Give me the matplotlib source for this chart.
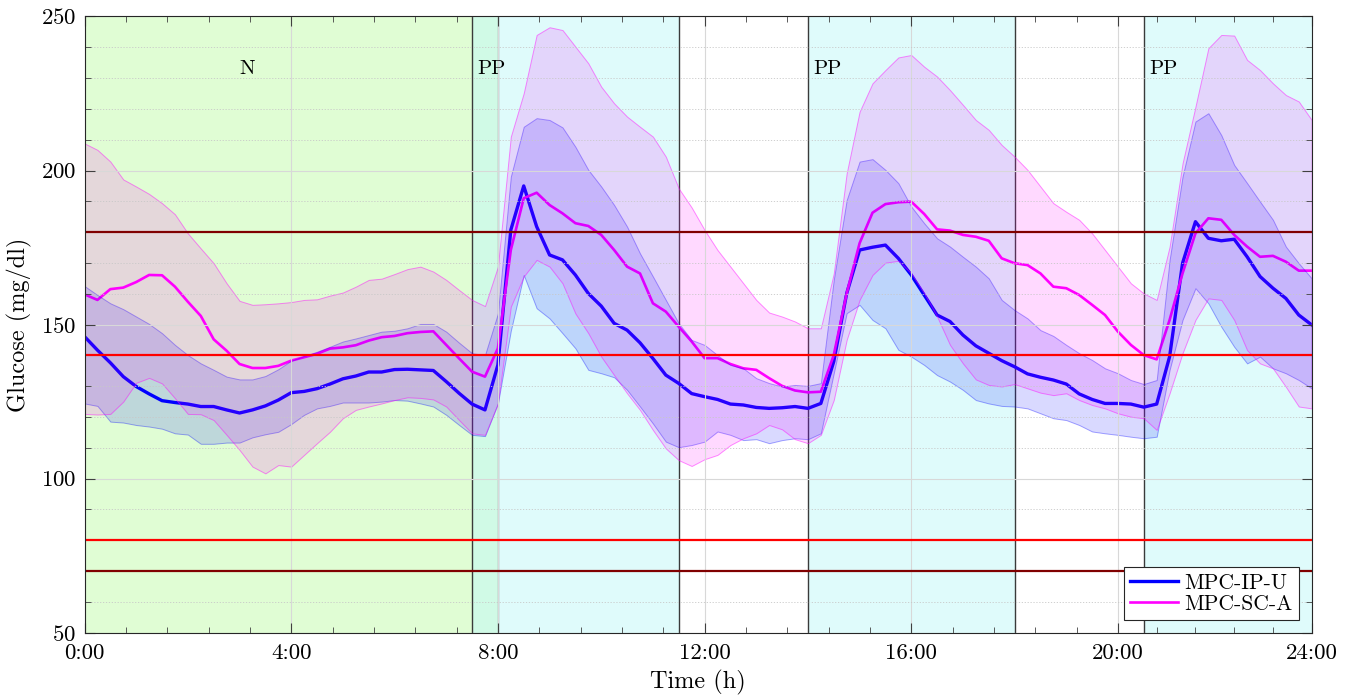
import numpy as np
import matplotlib
matplotlib.use('Agg')
import matplotlib.pyplot as plt
from matplotlib.ticker import FixedLocator, MultipleLocator

plt.rcParams['font.family'] = 'serif'
plt.rcParams['font.serif'] = ['cmr10']
plt.rcParams['mathtext.fontset'] = 'cm'
plt.rcParams['axes.formatter.use_mathtext'] = True

# ── data: 15-min samples, 0:00 .. 23:45 ──────────────────────────────────────
hours = np.arange(96) * 0.25

ip_mean = [146.1, 141.7, 137.6, 133.1, 129.9, 127.5, 125.3, 124.7, 124.2, 123.4,
           123.4, 122.3, 121.3, 122.3, 123.6, 125.5, 127.9, 128.3, 129.2, 130.7,
           132.4, 133.3, 134.6, 134.6, 135.4, 135.5, 135.3, 135.1, 131.5, 127.7,
           124.2, 122.3, 136.9, 180.7, 195.0, 181.8, 172.6, 171.0, 166.1, 160.1,
           156.0, 150.4, 148.2, 144.1, 139.0, 133.6, 130.9, 127.6, 126.6, 125.7,
           124.2, 123.9, 123.1, 122.8, 123.0, 123.4, 122.8, 124.4, 138.0, 160.1,
           174.2, 175.1, 175.8, 171.5, 166.1, 159.6, 153.1, 151.0, 146.6, 143.1,
           140.7, 138.3, 136.3, 134.0, 132.9, 132.0, 130.7, 127.5, 125.7, 124.4,
           124.4, 124.2, 123.2, 124.2, 139.6, 169.9, 183.4, 178.0, 177.2, 177.7,
           172.0, 165.6, 161.8, 158.5, 153.1, 149.9]
ip_lo = [124.4, 123.6, 118.5, 118.2, 117.4, 116.9, 116.2, 114.7, 114.3, 111.3,
         111.3, 111.7, 111.7, 113.4, 114.4, 115.2, 117.7, 120.7, 122.8, 123.6,
         124.7, 124.7, 124.7, 125.0, 125.5, 125.3, 124.4, 123.4, 120.7, 117.4,
         114.2, 113.8, 124.4, 148.0, 166.1, 155.3, 152.0, 147.2, 142.3, 135.3,
         134.2, 132.9, 128.8, 123.4, 117.9, 112.0, 110.2, 110.9, 112.0, 115.3,
         114.2, 112.5, 112.8, 111.5, 112.5, 113.1, 112.8, 114.7, 134.2, 153.7,
         156.4, 151.5, 148.8, 141.8, 139.6, 136.9, 133.6, 131.5, 128.8, 125.5,
         124.4, 123.6, 123.4, 122.8, 121.2, 119.6, 119.0, 117.4, 115.3, 114.7,
         114.2, 113.6, 113.1, 113.6, 135.3, 151.5, 161.8, 156.9, 149.3, 142.8,
         137.4, 139.6, 135.8, 134.2, 132.0, 129.3]
ip_hi = [162.5, 159.6, 156.9, 155.0, 152.6, 150.2, 147.2, 143.4, 140.1, 137.4,
         135.3, 133.1, 132.2, 132.2, 133.3, 135.5, 138.3, 139.8, 141.2, 142.8,
         144.5, 145.5, 146.6, 147.7, 148.0, 148.8, 150.2, 150.2, 147.7, 144.1,
         140.7, 140.1, 153.6, 198.0, 214.2, 217.0, 216.4, 214.0, 207.7, 200.2,
         194.8, 188.8, 181.8, 173.1, 165.6, 158.0, 150.4, 145.0, 143.4, 140.1,
         136.9, 135.8, 132.6, 131.0, 129.9, 130.4, 130.1, 131.0, 164.5, 190.4,
         202.9, 203.7, 200.2, 195.9, 188.3, 182.9, 178.0, 175.3, 172.0, 168.8,
         165.0, 158.0, 154.7, 152.0, 148.2, 146.3, 143.4, 140.7, 138.5, 135.8,
         134.2, 132.0, 130.7, 132.0, 171.0, 198.0, 215.9, 218.6, 211.5, 201.8,
         195.9, 189.9, 184.0, 175.3, 169.9, 165.0]

sc_mean = [159.8, 158.0, 161.5, 162.0, 163.8, 166.1, 166.0, 162.3, 157.4, 152.8,
           145.2, 141.5, 137.2, 135.9, 135.9, 136.6, 138.3, 139.4, 140.5, 142.2,
           142.6, 143.3, 144.8, 145.9, 146.3, 147.2, 147.6, 147.8, 143.4, 139.0,
           134.7, 133.1, 142.3, 174.2, 191.0, 192.8, 188.8, 186.1, 182.9, 182.0,
           179.1, 174.2, 168.8, 166.6, 156.9, 154.2, 149.3, 144.5, 139.1, 139.1,
           137.2, 135.8, 135.3, 132.6, 130.1, 128.6, 128.0, 128.2, 140.1, 160.1,
           176.4, 186.3, 189.1, 189.7, 189.9, 185.9, 180.9, 180.5, 179.1, 178.5,
           177.2, 171.5, 169.9, 169.3, 166.6, 162.3, 161.8, 159.6, 156.4, 153.1,
           147.7, 143.4, 140.1, 138.7, 151.5, 166.6, 179.6, 184.5, 184.0, 179.1,
           175.3, 172.0, 172.3, 170.4, 167.5, 167.5]
sc_lo = [121.0, 120.8, 121.0, 125.0, 131.1, 132.7, 130.9, 126.1, 121.0, 120.9,
         119.0, 114.2, 109.3, 103.9, 101.7, 104.4, 103.9, 107.7, 111.5, 115.2,
         119.6, 122.3, 123.4, 124.4, 125.5, 126.4, 126.2, 125.7, 123.4, 119.0,
         114.7, 114.2, 124.4, 155.8, 165.6, 171.0, 168.8, 163.4, 153.6, 147.2,
         139.6, 133.6, 127.7, 122.3, 115.8, 109.8, 106.0, 104.1, 106.3, 107.7,
         110.9, 113.1, 114.7, 117.4, 116.0, 112.8, 111.5, 114.2, 125.5, 145.0,
         158.0, 166.1, 170.1, 170.7, 166.6, 160.1, 152.6, 143.4, 137.4, 132.2,
         130.4, 129.9, 130.7, 129.3, 127.9, 127.1, 127.7, 125.5, 123.9, 122.8,
         121.2, 120.1, 119.6, 115.8, 127.7, 140.7, 151.5, 158.5, 158.0, 151.5,
         141.7, 137.4, 135.8, 129.8, 123.4, 122.8]
sc_hi = [208.8, 206.7, 202.9, 197.1, 194.8, 192.4, 189.4, 185.8, 179.6, 174.7,
         169.9, 163.4, 157.7, 156.4, 156.6, 156.9, 157.3, 158.0, 158.2, 159.4,
         160.4, 162.3, 164.5, 164.9, 166.4, 168.0, 168.8, 167.2, 164.5, 161.2,
         158.0, 156.0, 168.8, 211.0, 225.1, 244.0, 246.5, 245.6, 240.2, 234.8,
         227.2, 221.8, 217.5, 214.2, 211.0, 204.5, 194.2, 188.0, 180.7, 174.2,
         168.8, 163.4, 158.0, 153.9, 152.6, 151.0, 148.8, 148.8, 166.6, 199.1,
         219.1, 228.3, 232.6, 236.7, 237.5, 233.7, 230.5, 226.1, 221.3, 216.4,
         213.2, 208.3, 204.5, 200.2, 194.8, 189.4, 186.6, 184.0, 179.6, 174.2,
         168.8, 163.4, 160.1, 158.0, 175.3, 202.3, 220.7, 239.7, 244.0, 243.8,
         235.9, 232.6, 228.3, 224.5, 222.4, 216.4]

night = (0, 8)
meals = [(7.5, 11.5), (14, 18), (20.5, 23.75)]
limits_outer = [70, 180]
limits_inner = [80, 140]

xtick_pos = [0, 4, 8, 12, 16, 20, 23.75]
xtick_lab = ['0:00', '4:00', '8:00', '12:00', '16:00', '20:00', '24:00']

# ── plot ─────────────────────────────────────────────────────────────────────
fig = plt.figure(figsize=(13.59, 6.98), dpi=100)
ax = fig.add_axes([0.0622, 0.0936, 0.9030, 0.8828])

ax.axvspan(*night, color='#e0fdd4', lw=0, zorder=0.3)
for a, b in meals:
    ax.axvspan(a, b, facecolor=(0.757, 0.976, 0.976, 0.5), lw=0, zorder=0.4)
    ax.axvline(a, color='#3a3a3a', lw=1.0, zorder=0.6)
    if b < 23.7:
        ax.axvline(b, color='#3a3a3a', lw=1.0, zorder=0.6)
ax.axvline(night[1], color='#90a0a0', lw=1.0, zorder=0.6)

ax.text(3.0, 233, 'N', fontsize=15, ha='left', va='center')
for a, b in meals:
    ax.text(a + 0.11, 233, 'PP', fontsize=15, ha='left', va='center')

l1, = ax.plot(hours, ip_mean, color='#0000ff', lw=2.4, zorder=2)
l2, = ax.plot(hours, sc_mean, color='#ff00ff', lw=1.9, zorder=2)
ax.fill_between(hours, ip_lo, ip_hi, facecolor=(0, 0, 1, 0.15),
                edgecolor=(0, 0, 1, 0.35), lw=0.7, zorder=2.1)
ax.fill_between(hours, sc_lo, sc_hi, facecolor=(1, 0, 1, 0.15),
                edgecolor=(1, 0, 1, 0.45), lw=0.7, zorder=2.2)

for v in limits_outer:
    ax.axhline(v, color='#800000', lw=1.6, zorder=3)
for v in limits_inner:
    ax.axhline(v, color='#ff0000', lw=1.6, zorder=3)

ax.set_xlim(0, 23.75)
ax.set_ylim(50, 250)
ax.set_xticks(xtick_pos)
ax.set_xticklabels(xtick_lab)
minors = []
for a, b in zip(xtick_pos[:-1], xtick_pos[1:]):
    minors += list(np.linspace(a, b, 6)[1:-1])
ax.xaxis.set_minor_locator(FixedLocator(minors))
ax.set_yticks([50, 100, 150, 200, 250])
ax.yaxis.set_minor_locator(MultipleLocator(10))

ax.set_axisbelow(False)
ax.grid(which='major', color='#d8d8d8', lw=0.8, linestyle='-')
ax.grid(which='minor', axis='y', color='#c8c8c8', lw=0.6, linestyle=(0, (1.5, 2)))

ax.tick_params(which='both', direction='in', top=True, right=True,
               colors='#404040', labelcolor='black', labelsize=16.5)
ax.tick_params(which='major', length=7, width=0.8)
ax.tick_params(which='minor', length=4, width=0.6)
ax.tick_params(axis='x', which='major', pad=8)
ax.tick_params(axis='y', which='major', pad=6)
for s in ax.spines.values():
    s.set_color('#262626')
    s.set_linewidth(0.8)
    s.set_zorder(4)

ax.set_xlabel('Time (h)', fontsize=17.5, labelpad=5)
ax.set_ylabel('Glucose (mg/dl)', fontsize=17.5, labelpad=6)

leg = ax.legend([l1, l2], ['MPC-IP-U', 'MPC-SC-A'], loc='lower right',
                bbox_to_anchor=(0.9894, 0.0206), borderaxespad=0, fontsize=15.5,
                fancybox=False, framealpha=1, edgecolor='#262626',
                handlelength=2.2, handletextpad=0.3, labelspacing=0.05,
                borderpad=0.3)
leg.get_frame().set_linewidth(0.8)
leg.set_zorder(5)

fig.savefig('out.png', dpi=100)
